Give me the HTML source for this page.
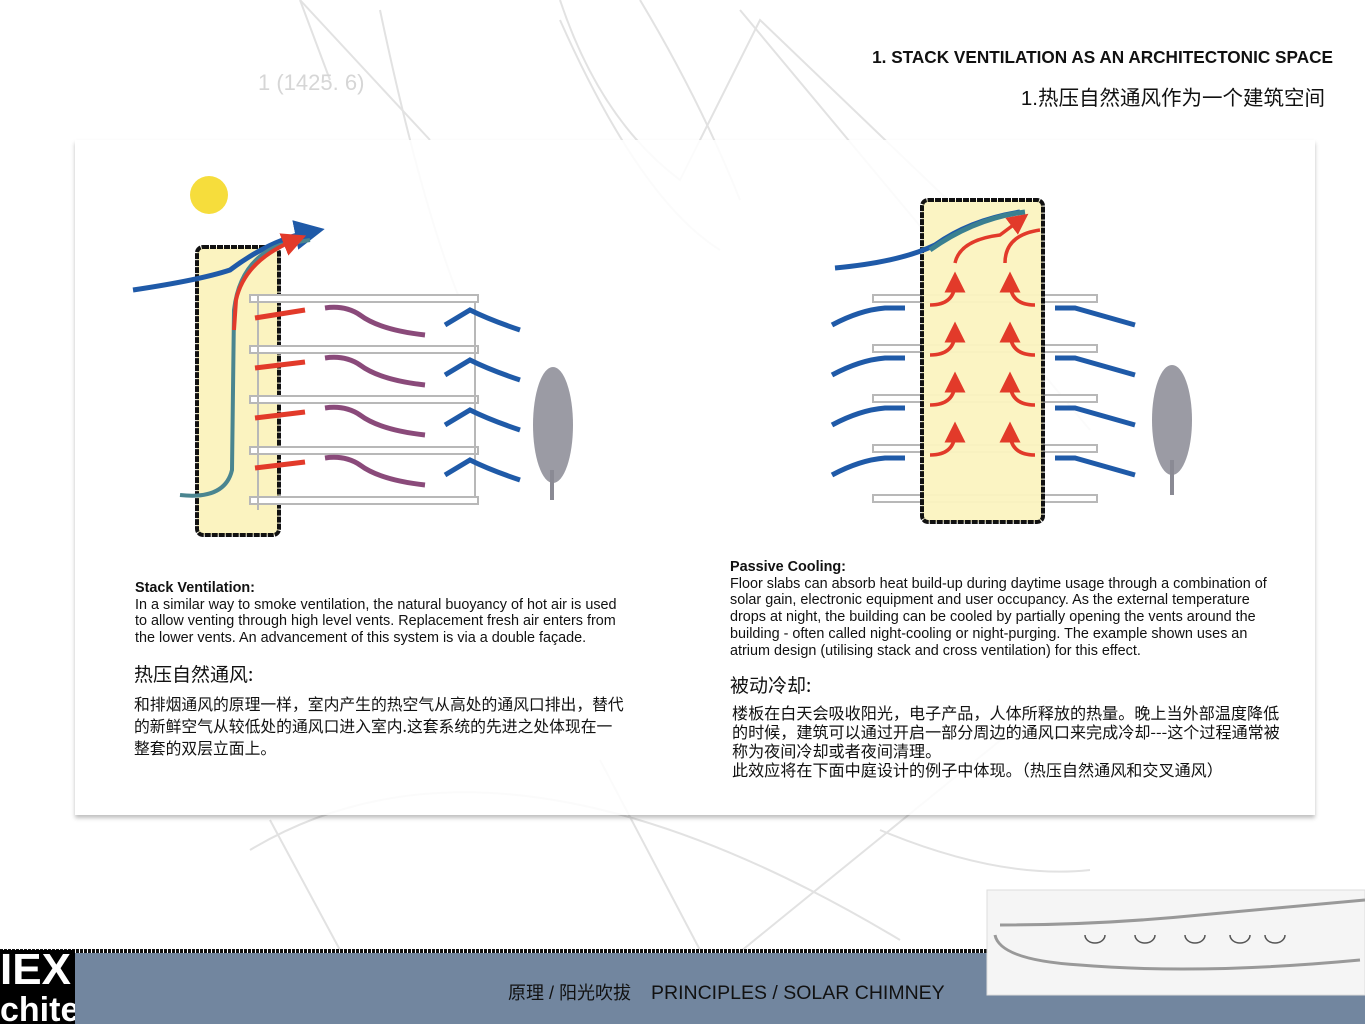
<!DOCTYPE html>
<html><head><meta charset="utf-8"><style>
body{margin:0;width:1365px;height:1024px;overflow:hidden;background:#fff;position:relative;font-family:"Liberation Sans","Noto Sans CJK SC",sans-serif;color:#111}
.a{position:absolute;white-space:nowrap}
.p{font-size:14.4px;line-height:16.7px}
.cn{font-family:"Noto Sans CJK SC",sans-serif}
</style></head><body>
<svg class="a" style="left:0;top:0" width="1365" height="1024">
<g fill="none" stroke="#e2e2e2" stroke-width="2">
<path d="M300 0 L330 80 M560 0 Q600 120 680 180 L760 20 L1000 250 M380 10 Q420 200 460 300 M560 20 Q640 200 720 250"/>
<path d="M740 10 L1090 430 M600 760 L700 950 M730 960 L1050 700 M250 850 Q500 700 900 940"/>
<path d="M270 820 L340 950 M880 830 Q1000 880 1090 870 M300 0 L430 140 M640 0 Q700 100 740 200"/>
</g>
<g fill="#d6d6d6" font-family="Liberation Sans" font-size="22"><text x="258" y="90">1 (1425. 6)</text></g>
</svg>
<div class="a" style="left:75px;top:140px;width:1240px;height:675px;background:rgba(255,255,255,0.85);box-shadow:0 3px 4px rgba(0,0,0,0.25)"></div>
<svg class="a" style="left:0;top:0" width="1365" height="1024">
<defs>
<marker id="rb" markerWidth="6" markerHeight="6" refX="3" refY="3" orient="auto"><path d="M0 0L6 3L0 6z" fill="#e23a2a"/></marker>
<marker id="bb" markerWidth="6" markerHeight="6" refX="3" refY="3" orient="auto"><path d="M0 0L6 3L0 6z" fill="#1f5aa8"/></marker>
</defs>
<circle cx="209" cy="195" r="19" fill="#f6dd3c"/>
<rect x="197" y="247" width="82" height="288" rx="6" fill="#fbf3c0" stroke="#111" stroke-width="4" stroke-dasharray="6 1"/>
<g fill="#fff" stroke="#b8b8b8" stroke-width="2">
<rect x="250" y="295" width="228" height="7"/><rect x="250" y="346" width="228" height="7"/><rect x="250" y="396" width="228" height="7"/><rect x="250" y="447" width="228" height="7"/><rect x="250" y="497" width="228" height="7"/>
<path d="M258 295V510 M475 302V497" />
</g>
<path d="M133 290 Q200 280 230 270 Q270 240 310 232" fill="none" stroke="#1f5aa8" stroke-width="5" marker-end="url(#bb)"/>
<path d="M180 495 Q225 500 232 470 L234 310 Q240 260 280 245 L310 240" fill="none" stroke="#4a8590" stroke-width="4"/>
<path d="M234 330 L236 300 Q245 260 295 240" fill="none" stroke="#e23a2a" stroke-width="4" marker-end="url(#rb)"/>
<g fill="none" stroke-width="5">
<g stroke="#e23a2a"><path d="M305 310 L255 318"/><path d="M305 362 L255 368"/><path d="M305 412 L255 418"/><path d="M305 462 L255 468"/></g>
<g stroke="#8a4a7a"><path d="M425 335 Q380 330 360 315 Q345 305 325 308"/><path d="M425 385 Q380 380 360 365 Q345 355 325 358"/><path d="M425 435 Q380 430 360 415 Q345 405 325 408"/><path d="M425 485 Q380 480 360 465 Q345 455 325 458"/></g>
<g stroke="#1f5aa8"><path d="M520 330 Q490 320 470 310 L445 325"/><path d="M520 380 Q490 370 470 360 L445 375"/><path d="M520 430 Q490 420 470 410 L445 425"/><path d="M520 480 Q490 470 470 460 L445 475"/></g>
</g>
<g fill="#8a8a94"><ellipse cx="553" cy="425" rx="20" ry="58" fill-opacity="0.85"/><rect x="550" y="470" width="4" height="30"/></g>
<path d="M880 200 A20 20 0 1 0 912 228 A16 16 0 1 1 880 200z" fill="#f0c330"/>
<g fill="#fff" stroke="#b8b8b8" stroke-width="2">
<rect x="873" y="295" width="224" height="7"/><rect x="873" y="345" width="224" height="7"/><rect x="873" y="395" width="224" height="7"/><rect x="873" y="445" width="224" height="7"/><rect x="873" y="495" width="224" height="7"/>
</g>
<rect x="922" y="200" width="121" height="322" rx="6" fill="#fbf3c0" fill-opacity="0.95" stroke="#111" stroke-width="4" stroke-dasharray="6 1"/>
<path d="M835 268 Q900 262 935 245 Q970 220 1020 212" fill="none" stroke="#1f5aa8" stroke-width="5"/>
<path d="M930 250 Q975 218 1025 212" fill="none" stroke="#3a8090" stroke-width="5"/>
<g fill="none" stroke="#e23a2a" stroke-width="3.5">
<path d="M955 263 Q960 240 1000 235 L1020 220" marker-end="url(#rb)"/><path d="M1005 263 Q1005 235 1040 230"/>
<g id="rc"><path d="M930 305 Q955 305 955 282" marker-end="url(#rb)"/><path d="M1035 305 Q1010 305 1010 282" marker-end="url(#rb)"/></g>
<use href="#rc" y="50"/><use href="#rc" y="100"/><use href="#rc" y="150"/>
</g>
<g fill="none" stroke="#1f5aa8" stroke-width="5">
<g id="bc"><path d="M832 325 Q860 310 885 308 L905 308"/><path d="M1135 325 Q1100 315 1075 308 L1055 308"/></g>
<use href="#bc" y="50"/><use href="#bc" y="100"/><use href="#bc" y="150"/>
</g>
<g fill="#8a8a94"><ellipse cx="1172" cy="420" rx="20" ry="55" fill-opacity="0.85"/><rect x="1170" y="460" width="4" height="35"/></g>
<rect x="75" y="953" width="1290" height="71" fill="#72869f"/>
<path d="M0 951 H987" stroke="#111" stroke-width="4" stroke-dasharray="3 1"/>
<rect x="0" y="950" width="75" height="74" fill="#000"/>
<rect x="987" y="890" width="378" height="105" fill="#f5f5f5" stroke="#ddd"/>
<g fill="none" stroke="#999" stroke-width="3"><path d="M995 935 Q1000 960 1080 965 Q1200 975 1360 960"/><path d="M1000 925 Q1100 925 1200 915 L1365 900"/></g>
<g fill="none" stroke="#555" stroke-width="1.5"><path d="M1085 935 a10 8 0 0 0 20 0M1135 935 a10 8 0 0 0 20 0M1185 935 a10 8 0 0 0 20 0M1230 935 a10 8 0 0 0 20 0M1265 935 a10 8 0 0 0 20 0"/></g>
</svg>
<div class="a" style="left:0;top:948px;color:#fff;font-weight:bold;font-size:44px;line-height:44px;width:75px;overflow:hidden">IEX</div>
<div class="a" style="left:0;top:995px;color:#fff;font-weight:bold;font-size:34px;line-height:30px;width:75px;overflow:hidden">chite</div>
<div class="a" style="left:508px;top:979px;font-size:18px;color:#111">原理 / 阳光吹拔 &nbsp;&nbsp;&nbsp;<span style="font-size:19.5px">PRINCIPLES / SOLAR CHIMNEY</span></div>

<div class="a" style="right:32px;top:47px;font-size:17.2px;font-weight:bold">1. STACK VENTILATION AS AN ARCHITECTONIC SPACE</div>
<div class="a" style="right:40px;top:81px;font-size:20.5px">1.热压自然通风作为一个建筑空间</div>

<div class="a p" style="left:135px;top:580px"><b>Stack Ventilation:</b><br>In a similar way to smoke ventilation, the natural buoyancy of hot air is used<br>to allow venting through high level vents. Replacement fresh air enters from<br>the lower vents. An advancement of this system is via a double façade.</div>
<div class="a cn" style="left:134px;top:660px;font-size:19px">热压自然通风:</div>
<div class="a cn" style="left:134px;top:693px;font-size:15.8px;line-height:22px">和排烟通风的原理一样，室内产生的热空气从高处的通风口排出，替代<br>的新鲜空气从较低处的通风口进入室内.这套系统的先进之处体现在一<br>整套的双层立面上。</div>

<div class="a p" style="left:730px;top:559px"><b>Passive Cooling:</b><br>Floor slabs can absorb heat build-up during daytime usage through a combination of<br>solar gain, electronic equipment and user occupancy. As the external temperature<br>drops at night, the building can be cooled by partially opening the vents around the<br>building - often called night-cooling or night-purging. The example shown uses an<br>atrium design (utilising stack and cross ventilation) for this effect.</div>
<div class="a cn" style="left:730px;top:671px;font-size:19px">被动冷却:</div>
<div class="a cn" style="left:732px;top:703px;font-size:16.1px;line-height:19px">楼板在白天会吸收阳光，电子产品，人体所释放的热量。晚上当外部温度降低<br>的时候，建筑可以通过开启一部分周边的通风口来完成冷却---这个过程通常被<br>称为夜间冷却或者夜间清理。<br>此效应将在下面中庭设计的例子中体现。（热压自然通风和交叉通风）</div>
</body></html>
